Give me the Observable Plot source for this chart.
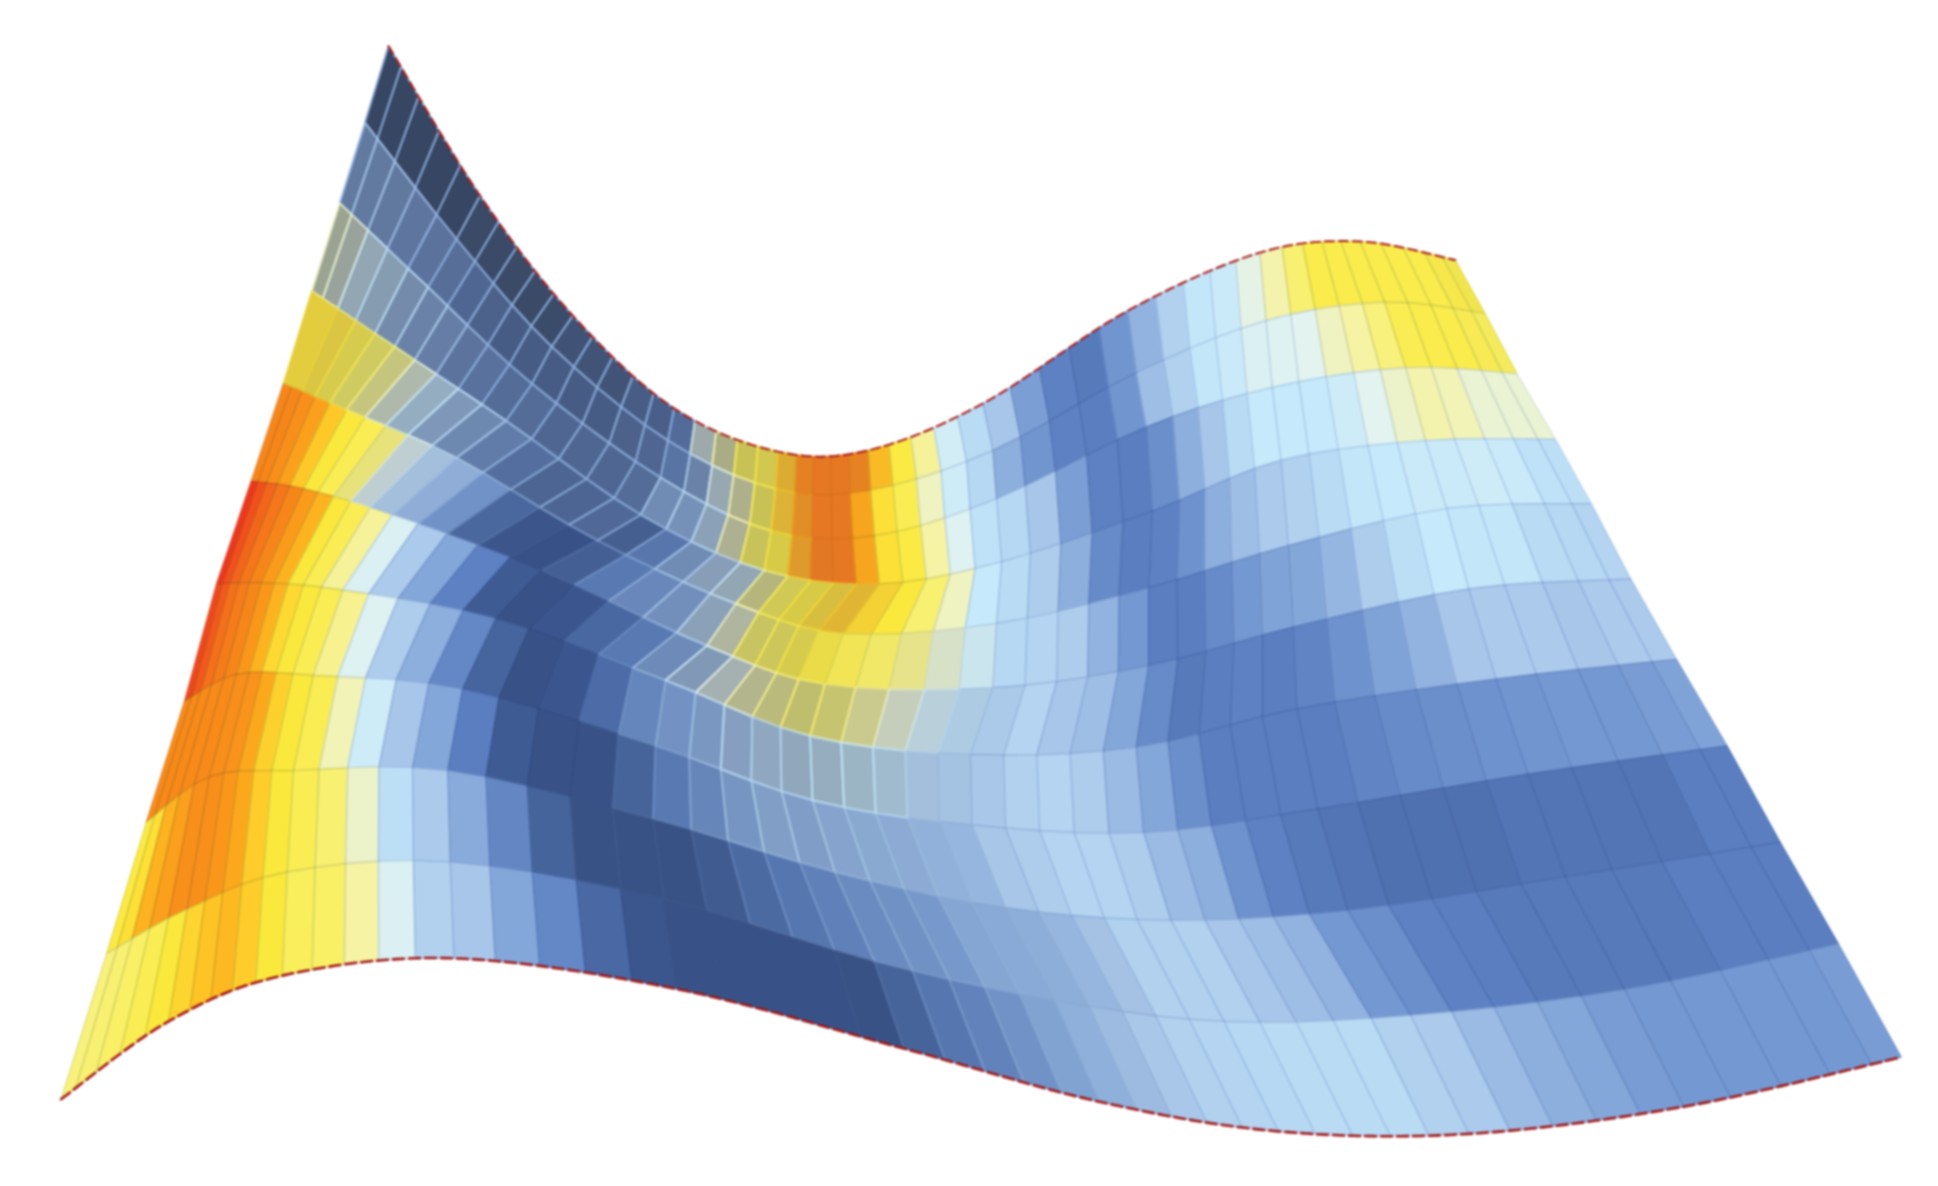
<!DOCTYPE html>
<html>
<head>
<meta charset="utf-8">
<script src="https://cdn.jsdelivr.net/npm/d3@7"></script>
<script src="https://cdn.jsdelivr.net/npm/@observablehq/plot@0.6"></script>
<style>html,body{margin:0;padding:0;background:#fff}svg{display:block}</style>
</head>
<body>
<div id="chart"></div>
<script>
// Surface knots: one list per key column line, top edge to bottom edge.
const knotC0  = [[314,37],[295,99],[274.5,164],[252,235],[229,310],[203,389],[175,472],[149,567],[118,665],[86,771],[49,889]];
const knotC5  = [[388,158],[369,193],[346,232],[319,280],[280,331],[245,395],[211,471],[191,545],[169,628],[151,735],[136,826]];
const knotC10 = [[463,255],[446,280],[430,310],[409,340],[369,370],[317,416],[277,477],[253,546],[237,623],[232,705],[228,789]];
const knotC15 = [[545,330],[540,356],[534,386],[518,416],[483,437],[438,461],[401,500],[374,557],[362,623],[364,697],[367,775]];
const knotC20 = [[629,365],[627,395],[623.5,429],[618,461],[595,488],[571.5,522],[538,550],[530,603],[528,662],[537,727],[548,800]];
const knotC25 = [[702,364],[704,396],[707,433],[711,472],[682,512],[667,553],[655,595],[657,647],[675,705],[707,777],[731,848]];
const knotC30 = [[795,326],[803,364],[806,403],[810,454],[806,504],[803,556],[785,610],[786,667],[813,734],[853,809],[889,891]];
const knotC35 = [[912,251],[919,301],[927,345],[932,413],[929,475],[929,538],[919,604],[925,673],[947,744],[990,826],[1034,915]];
const knotC40 = [[1019,204],[1024,259],[1029,313],[1036,372],[1042,441],[1046,507],[1049,573],[1066,654],[1090,736],[1141,821],[1188,917]];
const knotC45 = [[1100,195],[1120,244],[1137,297],[1153,356],[1170,411],[1188,476],[1210,549],[1236,626],[1266,709],[1314,800],[1362,895]];
const knotC50 = [[1177,210],[1201,253],[1227,302],[1258,355],[1287,407],[1319,468],[1356,533],[1397,603],[1440,681],[1487,763],[1538,855]];

// Cell values, one list per row of the mesh, 50 columns each.
const value0 = [-10,-10,-10,-10,-10,-8,-8,-8,-8,-7,-3,-2,-2,2,3,7,48,56,64,65,76,88,90,90,88,76,65,56,43,36,30,20,11,9,17,25,33,39,41,48,54,60,64,64,64,64,64,64,64,64];
const value1 = [16,16,15,13,11,9,6,4,2,2,2,2,2,4,6,10,20,45,55,64,74,84,90,90,80,68,63,52,42,35,24,17,11,10,17,28,33,39,41,45,46,47,52,55,59,63,64,64,63,62];
const value2 = [52,50,42,35,24,20,18,12,10,8,8,6,6,6,8,20,22,35,54,63,66,80,90,90,80,68,65,55,46,38,35,30,20,11,10,15,24,30,36,40,40,40,42,47,51,54,53,50,50,50];
const value3 = [68,68,68,65,62,58,50,38,26,20,14,8,5,5,6,3,10,20,30,42,58,64,66,70,74,70,66,60,52,40,36,32,24,14,10,11,16,24,28,31,33,36,39,40,41,41,42,41,38,37];
const value4 = [88,88,86,82,74,66,63,59,47,33,26,18,5,1,0,3,10,16,20,35,52,62,63,65,65,63,61,57,50,43,35,34,32,25,18,10,10,14,18,21,22,26,32,37,40,39,39,36,35,34];
const value5 = [100,97,94,91,88,83,78,66,63,56,45,31,22,11,2,0,1,5,10,18,28,48,55,58,60,60,56,50,43,36,32,34,30,28,22,14,9,10,11,10,12,16,21,25,30,31,31,30,31,31];
const value6 = [98,96,92,90,88,84,78,70,66,63,57,46,32,24,13,4,0,1,6,14,19,22,27,32,36,39,40,38,33,31,31,33,34,32,27,22,15,10,10,10,10,12,14,15,16,17,18,18,19,21];
const value7 = [87,87,87,87,87,86,85,80,72,66,63,53,42,30,22,10,2,0,0,4,10,15,21,24,23,24,25,25,26,27,31,32,34,34,32,27,24,16,11,9,8,7,7,7,8,8,8,8,10,10];
const value8 = [65,68,78,82,86,86,84,80,73,66,63,60,51,37,31,23,13,4,0,0,0,2,6,9,12,16,18,20,23,24,25,27,30,33,33,33,30,28,25,18,15,11,10,9,9,9,9,10,10,10];
const value9 = [59,60,61,63,66,71,75,77,73,66,62,61,55,45,33,30,22,13,5,1,0,0,0,0,0,4,9,13,18,22,25,28,31,33,34,35,36,36,36,33,31,27,24,22,19,18,18,18,18,19];

// Grey sheen over the folded part of the surface, in percent.
const sheen0 = [40,40,40,40,40,40,40,40,40,40,38,38,38,35,35,32,50,48,30,25,20,12,10,10,10,3,0,0,0,0,0,0,0,0,0,0,0,0,0,0,0,0,0,0,0,0,0,0,3,5];
const sheen1 = [48,48,48,45,45,45,40,40,40,40,40,40,40,40,40,35,45,50,45,30,20,15,10,10,3,0,0,0,0,0,0,0,0,0,0,0,0,0,0,0,0,0,0,0,0,0,0,0,2,3];
const sheen2 = [55,55,50,50,45,45,45,45,42,40,40,40,40,40,40,30,30,45,45,30,22,18,12,10,3,0,0,0,0,0,0,0,0,0,0,0,0,0,0,0,0,0,0,0,0,0,0,0,0,0];
const sheen3 = [15,15,20,22,25,30,40,40,35,35,35,30,30,30,30,20,25,30,40,50,40,25,22,22,18,5,0,0,0,0,0,0,0,0,0,0,0,0,0,0,0,0,0,0,0,0,0,0,0,0];
const sheen4 = [0,0,0,0,0,0,0,10,25,15,10,10,10,5,0,10,15,20,25,45,42,30,27,22,10,5,5,10,12,5,0,0,0,0,0,0,0,0,0,0,0,0,0,0,0,0,0,0,0,0];
const sheen5 = [0,0,0,0,0,0,0,0,0,0,0,0,0,0,0,0,0,5,15,25,40,45,42,38,35,30,27,25,20,12,3,0,0,0,0,0,0,0,0,0,0,0,0,0,0,0,0,0,0,0];
const sheen6 = [0,0,0,0,0,0,0,0,0,0,0,0,0,0,0,0,0,0,5,12,15,22,30,35,42,42,38,30,15,8,2,0,0,0,0,0,0,0,0,0,0,0,0,0,0,0,0,0,0,0];
const sheen7 = [0,0,0,0,0,0,0,0,0,0,0,0,0,0,0,0,0,0,0,8,15,20,20,20,18,15,12,10,6,4,3,0,0,0,0,0,0,0,0,0,0,0,0,0,0,0,0,0,0,0];
const sheen8 = [0,0,0,0,0,0,0,0,0,0,0,0,0,0,0,0,2,2,3,3,3,6,12,14,14,14,12,10,8,6,5,4,3,0,0,0,0,0,0,0,0,0,0,0,0,0,0,0,0,0];
const sheen9 = [0,0,0,0,0,0,0,0,0,0,0,0,0,0,0,0,0,0,0,1,2,2,2,2,3,8,14,14,10,6,4,3,2,0,0,0,0,0,0,0,0,0,0,0,0,0,0,0,0,0];

const colorStops  = [-10,0,10,20,30,40,47,55,62,66,74,80,88,95,100];
const colorRange  = ["#24365a","#385288","#5a7ec0","#7b9fd5","#a8c6ea","#c6e9fb","#e2f3f0","#f6f3a4","#f9ef5c","#fbe83c","#fec928","#fca81c","#f7861a","#f4601c","#ee361c"];

const knots  = [knotC0,knotC5,knotC10,knotC15,knotC20,knotC25,knotC30,knotC35,knotC40,knotC45,knotC50];
const values = [value0,value1,value2,value3,value4,value5,value6,value7,value8,value9];
const sheens = [sheen0,sheen1,sheen2,sheen3,sheen4,sheen5,sheen6,sheen7,sheen8,sheen9];

// Mesh: five cells between key column lines, smoothed along each row line.
const span = 5, rows = values.length, cols = value0.length;
function smooth(p0,p1,p2,p3,t){
  return 0.5*((2*p1)+(-p0+p2)*t+(2*p0-5*p1+4*p2-p3)*t*t+(-p0+3*p1-3*p2+p3)*t*t*t);
}
function vertex(r,c){
  const s = Math.min(Math.floor(c/span), knots.length-2), t = c/span - s;
  const g = i => knots[Math.max(0,Math.min(knots.length-1,i))][r];
  const a=g(s-1),b=g(s),d=g(s+1),e=g(s+2);
  return [smooth(a[0],b[0],d[0],e[0],t), smooth(a[1],b[1],d[1],e[1],t)];
}
const corners = [];
for (let r=0;r<rows;r++) for (let c=0;c<cols;c++){
  const id = r*1000+c, v = values[r][c], sh = sheens[r][c]/100;
  // The mesh lines show the cell's own colour through the sheen, lifted on the blue side.
  const lineV = v < 30 ? Math.max(v+14, 24) : v;
  for (const [a,b] of [[r,c],[r,c+1],[r+1,c+1],[r+1,c]]){
    const [x,y] = vertex(a,b);
    corners.push({id,x,y,v,sh,lineV});
  }
}
const edgeLine = r => d3.range(0,cols*4+1).map(i=>{const [x,y]=vertex(r,i/4);return {x,y};});
const topEdge = edgeLine(0), bottomEdge = edgeLine(rows);

const chart = Plot.plot({
  width:1938, height:1186, margin:0,
  x:{domain:[0,1568],axis:null},
  y:{domain:[959.6,0],axis:null},
  color:{type:"linear",domain:colorStops,range:colorRange,interpolate:"rgb"},
  opacity:{type:"identity"},
  style:{background:"#fff",filter:"blur(1.3px)"},
  marks:[
    Plot.line(corners,{x:"x",y:"y",z:"id",fill:"v",stroke:"v",strokeWidth:0.9,curve:"linear-closed"}),
    Plot.line(corners.filter(d=>d.sh>0),{x:"x",y:"y",z:"id",fill:"#56606e",fillOpacity:"sh",stroke:"none",curve:"linear-closed"}),
    Plot.line(corners,{x:"x",y:"y",z:"id",stroke:"#4468b0",strokeOpacity:0.13,strokeWidth:1.2,curve:"linear-closed",mixBlendMode:"multiply"}),
    Plot.line(corners.filter(d=>d.sh>0),{x:"x",y:"y",z:"id",stroke:"lineV",strokeOpacity:d=>Math.min(0.85,d.sh*2.6),strokeWidth:1.7,curve:"linear-closed"}),
    Plot.line(topEdge,{x:"x",y:"y",stroke:"#a81818",strokeWidth:2,strokeDasharray:"9 5"}),
    Plot.line(bottomEdge,{x:"x",y:"y",stroke:"#a01515",strokeWidth:2.6,strokeDasharray:"11 5"})
  ]
});
document.getElementById("chart").appendChild(chart);
</script>
</body>
</html>
